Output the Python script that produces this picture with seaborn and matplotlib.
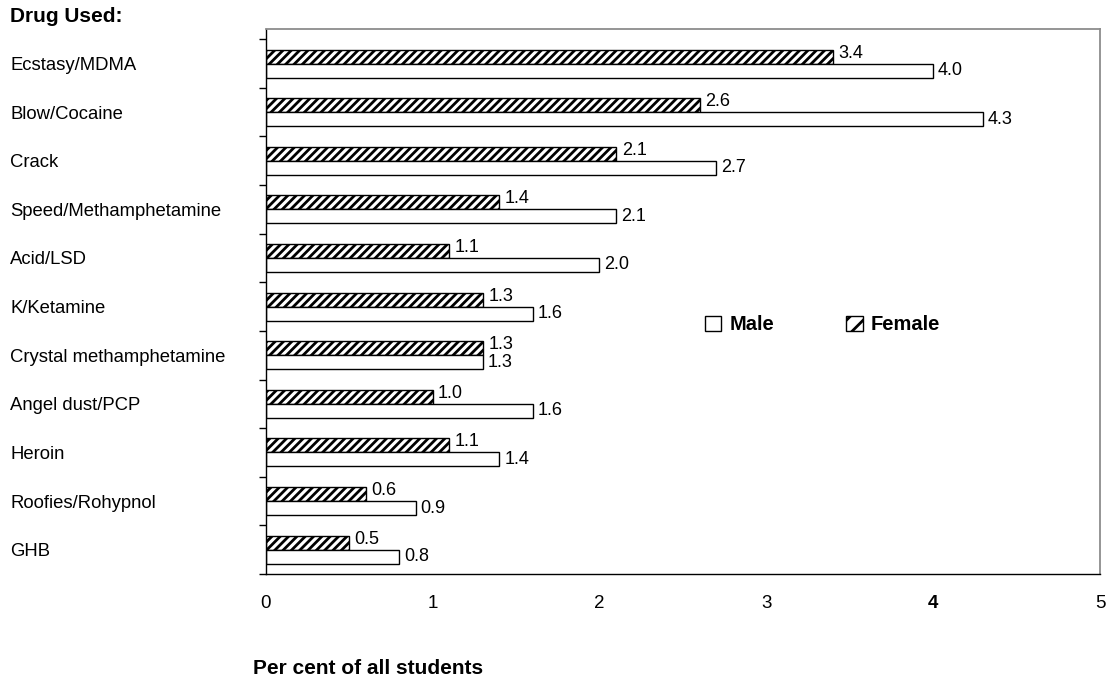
import numpy as np
import pandas as pd
import matplotlib
matplotlib.use("Agg")
import matplotlib.pyplot as plt
import seaborn as sns
from matplotlib.patches import Patch
from matplotlib.ticker import FixedLocator

# data
drugs = ["Ecstasy/MDMA", "Blow/Cocaine", "Crack", "Speed/Methamphetamine",
         "Acid/LSD", "K/Ketamine", "Crystal methamphetamine", "Angel dust/PCP",
         "Heroin", "Roofies/Rohypnol", "GHB"]
male = [4.0, 4.3, 2.7, 2.1, 2.0, 1.6, 1.3, 1.6, 1.4, 0.9, 0.8]
female = [3.4, 2.6, 2.1, 1.4, 1.1, 1.3, 1.3, 1.0, 1.1, 0.6, 0.5]
x_ticks = [0, 1, 2, 3, 4, 5]

df = pd.DataFrame({
    "drug": drugs * 2,
    "pct": female + male,
    "sex": ["Female"] * len(drugs) + ["Male"] * len(drugs),
})

sns.set_style("white")
plt.rcParams["font.family"] = ["Liberation Sans", "DejaVu Sans"]
plt.rcParams["hatch.linewidth"] = 2.0
plt.rcParams["hatch.color"] = "black"
for key in ["text.color", "axes.labelcolor", "xtick.color", "ytick.color"]:
    plt.rcParams[key] = "black"

fig = plt.figure(figsize=(11.09, 6.79), dpi=100)
ax = fig.add_axes([265.7 / 1109, 1 - 574 / 679, 834.3 / 1109, 545 / 679])

sns.barplot(data=df, y="drug", x="pct", hue="sex", hue_order=["Female", "Male"],
            order=drugs, orient="h", width=0.576, dodge=True,
            palette={"Female": "white", "Male": "white"}, saturation=1,
            edgecolor="black", linewidth=1.0, errorbar=None, legend=False, ax=ax)

# find which container is which
for cont in ax.containers:
    widths = [round(b.get_width(), 2) for b in cont]
    if widths == female:
        for b in cont:
            b.set_hatch("////")
        labels = ax.bar_label(cont, fmt="%.1f", padding=4, fontsize=13)
        for t in labels:
            t.set_y(2.5)   # sits a touch above the bar centre like the original
    else:
        ax.bar_label(cont, fmt="%.1f", padding=3.5, fontsize=13)

# axes limits / ticks
ax.set_xlim(0, 5)
ax.set_ylim(10.5, -0.71)
ax.set_xticks(x_ticks)
ax.set_xticklabels([str(t) for t in x_ticks], fontsize=13.5)
ax.get_xticklabels()[4].set_fontweight("bold")
ax.tick_params(axis="x", direction="out", length=5, width=1, pad=10, colors="black")

ax.set_yticks(range(len(drugs)))
ax.set_yticklabels(drugs, fontsize=13.3, ha="left")
ax.yaxis.set_minor_locator(FixedLocator(np.arange(-0.5, len(drugs), 1.0)))
ax.tick_params(axis="y", which="major", length=0, pad=184)
ax.tick_params(axis="y", which="minor", direction="out", length=5, width=1, left=True)

for side in ["left", "bottom"]:
    ax.spines[side].set_color("black")
    ax.spines[side].set_linewidth(1.0)
for side in ["top", "right"]:
    ax.spines[side].set_color("#8c8c8c")
    ax.spines[side].set_linewidth(1.3)

# axis titles
ax.set_xlabel("Per cent of all students", fontsize=15, fontweight="bold", va="center")
ax.xaxis.set_label_coords(0.1222, -0.1725)
ax.set_ylabel("Drug Used:", fontsize=15, fontweight="bold", rotation=0,
              ha="left", va="center")
ax.yaxis.set_label_coords(-0.3065, 1.023)

# legend
handles = [Patch(facecolor="white", edgecolor="black", label="Male"),
           Patch(facecolor="white", edgecolor="black", hatch="//", label="Female")]
leg = ax.legend(handles=handles, loc="center left", bbox_to_anchor=(0.5266, 0.457),
                ncol=2, frameon=False, borderpad=0, borderaxespad=0,
                handlelength=0.8, handleheight=0.8, handletextpad=0.4,
                columnspacing=3.6, prop={"size": 14.5, "weight": "bold"})

fig.savefig("out.png", dpi=100)
